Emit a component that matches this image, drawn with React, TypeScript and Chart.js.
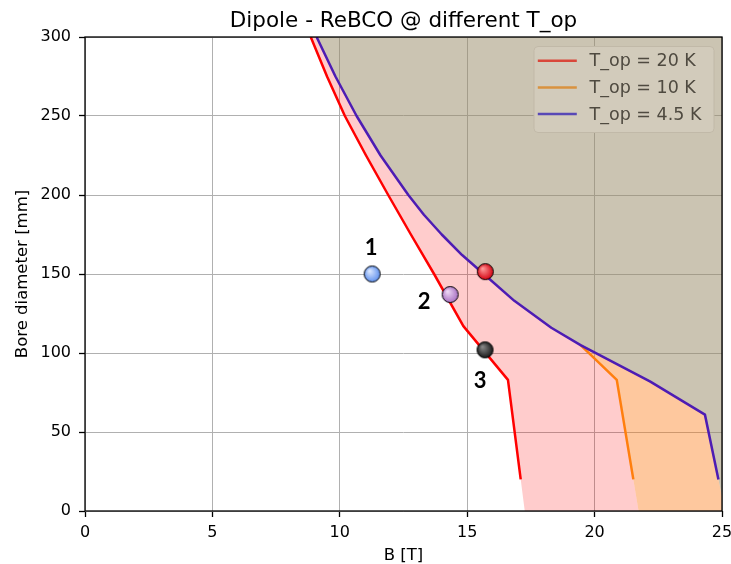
import React, { useEffect, useRef } from "react";
import { Chart, registerables } from "chart.js";

Chart.register(...registerables);

// ---- axis ticks ----
const X_TICKS = [0, 5, 10, 15, 20, 25];
const Y_TICKS = [0, 50, 100, 150, 200, 250, 300];

// ---- series (B [T] vs bore diameter [mm]) ----
const redB = [8.86, 9.5, 10.2, 11.03, 11.9, 12.79, 13.7, 14.85, 16.6, 17.1];
const redD = [300, 275, 250, 225, 200, 175, 150, 117, 83, 20];

const orangeB = [19.45, 20.87, 21.52];
const orangeD = [105, 83, 20];

const purpleB = [9.09, 9.83, 10.66, 11.6, 12.69, 13.3, 14.0, 14.8, 15.65, 16.85, 18.3, 19.45, 22.17, 24.33, 24.86];
const purpleD = [300, 275, 250, 225, 200, 187.5, 175, 162, 150, 133, 116, 105, 82, 61, 20];

// ---- design points ----
const markerB = [11.27, 14.33, 15.7, 15.71];
const markerD = [150, 137, 102, 151.5];
const markerLabels = ["1", "2", "3", ""];

const seriesNames = ["T_op = 20 K", "T_op = 10 K", "T_op = 4.5 K"];
const TITLE = "Dipole - ReBCO @ different T_op";
const X_LABEL = "B [T]";
const Y_LABEL = "Bore diameter [mm]";

// ---- styles ----
const RED = "#ff0000";
const ORANGE = "#ff7f0e";
const PURPLE = "#4d1cb4";
const markerColors = [
  ["#dde9ff", "#5d8fee"],
  ["#eedaf5", "#a86ec2"],
  ["#8a8a8a", "#151515"],
  ["#ff9a9a", "#d4000f"],
];
const labelOffsets = [
  [-1, -26],
  [-26, 7],
  [-5, 31.5],
];

function toPts(B: number[], D: number[]) {
  return B.map((b, i) => ({ x: b, y: D[i] }));
}

function extrapolateToZero(B: number[], D: number[]) {
  const n = B.length;
  const b1 = B[n - 2], d1 = D[n - 2], b2 = B[n - 1], d2 = D[n - 1];
  return b2 + ((b2 - b1) * (0 - d2)) / (d2 - d1);
}

function makeBall(light: string, dark: string, r: number) {
  const c = document.createElement("canvas");
  const s = Math.ceil(2 * r + 3);
  c.width = s;
  c.height = s;
  const g = c.getContext("2d")!;
  const cx = s / 2, cy = s / 2;
  const grad = g.createRadialGradient(cx - r * 0.35, cy - r * 0.4, r * 0.05, cx, cy, r * 1.05);
  grad.addColorStop(0, light);
  grad.addColorStop(1, dark);
  g.beginPath();
  g.arc(cx, cy, r, 0, Math.PI * 2);
  g.fillStyle = grad;
  g.fill();
  g.lineWidth = 1;
  g.strokeStyle = "#000";
  g.stroke();
  return c;
}

export default function App() {
  const ref = useRef<HTMLCanvasElement>(null);

  useEffect(() => {
    const canvas = ref.current!;
    const X_MAX = X_TICKS[X_TICKS.length - 1];
    const Y_MAX = Y_TICKS[Y_TICKS.length - 1];

    const red0 = extrapolateToZero(redB, redD);
    const orange0 = extrapolateToZero(orangeB, orangeD);
    const purple0 = extrapolateToZero(purpleB, purpleD);

    const redPts = toPts(redB, redD);
    const orangePts = toPts(orangeB, orangeD);
    const purplePts = toPts(purpleB, purpleD);

    const branch = orangeD[0];
    const purpleAbove = purplePts.filter((p) => p.y > branch);
    const purpleBelow = purplePts.filter((p) => p.y <= branch);

    const pinkPoly = [
      ...redPts,
      { x: red0, y: 0 },
      { x: orange0, y: 0 },
      ...orangePts.slice().reverse(),
      ...purpleAbove.slice().reverse(),
    ];
    const peachPoly = [
      ...orangePts,
      { x: orange0, y: 0 },
      { x: purple0, y: 0 },
      ...purpleBelow.slice().reverse(),
    ];
    const edge = Math.max(purple0, X_MAX) + 1;
    const taupePoly = [
      ...purplePts,
      { x: purple0, y: 0 },
      { x: edge, y: 0 },
      { x: edge, y: Y_MAX + 10 },
      { x: purplePts[0].x, y: Y_MAX + 10 },
    ];

    const balls = markerColors.map(([l, d]) => makeBall(l, d, 8));

    const polyDs = (data: any[], color: string) => ({
      data,
      showLine: true,
      fill: "shape",
      backgroundColor: color,
      borderWidth: 0,
      pointRadius: 0,
      tension: 0,
    });
    const lineDs = (data: any[], color: string) => ({
      data,
      showLine: true,
      fill: false,
      borderColor: color,
      borderWidth: 2.5,
      pointRadius: 0,
      tension: 0,
      borderJoinStyle: "round",
    });

    const tickFont = { family: "DejaVu Sans", size: 16 };

    const decor = {
      id: "decor",
      afterDatasetsDraw(chart: any) {
        const { ctx, chartArea: a, scales } = chart;
        const xs = scales.x, ys = scales.y;
        ctx.save();
        // spines
        ctx.strokeStyle = "#000";
        ctx.lineWidth = 1.3;
        ctx.strokeRect(a.left, a.top, a.right - a.left, a.bottom - a.top);

        // marker labels
        ctx.fillStyle = "#000";
        ctx.font = "bold 22px Lato";
        ctx.textAlign = "center";
        ctx.textBaseline = "middle";
        markerLabels.forEach((t, i) => {
          if (!t) return;
          const px = xs.getPixelForValue(markerB[i]) + labelOffsets[i][0];
          const py = ys.getPixelForValue(markerD[i]) + labelOffsets[i][1];
          ctx.fillText(t, px, py);
        });

        // legend
        const bw = 180, bh = 86;
        const bx = a.right - 8.5 - bw, by = a.top + 9;
        ctx.beginPath();
        ctx.roundRect(bx + 0.5, by + 0.5, bw, bh, 4);
        ctx.fillStyle = "#d2cbbb";
        ctx.fill();
        ctx.strokeStyle = "#c1b9a8";
        ctx.lineWidth = 1;
        ctx.stroke();
        const legCols = ["#d9473a", "#d9923f", "#5848b6"];
        ctx.font = "17.5px 'DejaVu Sans'";
        ctx.textAlign = "left";
        ctx.textBaseline = "middle";
        seriesNames.forEach((name, i) => {
          const ry = by + 14.7 + i * 26.7;
          ctx.beginPath();
          ctx.moveTo(bx + 4.3, ry);
          ctx.lineTo(bx + 43.3, ry);
          ctx.strokeStyle = legCols[i];
          ctx.lineWidth = 2.5;
          ctx.stroke();
          ctx.fillStyle = "#4f4a40";
          ctx.fillText(name, bx + 56, ry + 1);
        });

        // title
        const cx = (a.left + a.right) / 2;
        ctx.fillStyle = "#000";
        ctx.textAlign = "center";
        ctx.textBaseline = "alphabetic";
        ctx.font = "21.5px 'DejaVu Sans'";
        ctx.fillText(TITLE, cx, 27);
        // x label
        ctx.font = "16.5px 'DejaVu Sans'";
        ctx.fillText(X_LABEL, cx, 560);
        // y label
        ctx.save();
        ctx.translate(26.5, (a.top + a.bottom) / 2);
        ctx.rotate(-Math.PI / 2);
        ctx.fillText(Y_LABEL, 0, 0);
        ctx.restore();
        ctx.restore();
      },
    };

    const chart = new Chart(canvas, {
      type: "scatter",
      data: {
        datasets: [
          {
            data: toPts(markerB, markerD),
            pointStyle: balls as any,
            pointRadius: 8,
            showLine: false,
          } as any,
          lineDs(purplePts, PURPLE),
          lineDs(redPts, RED),
          lineDs(orangePts, ORANGE),
          polyDs(pinkPoly, "rgba(255,0,0,0.2)"),
          polyDs(peachPoly, "rgba(252,118,12,0.4)"),
          polyDs(taupePoly, "rgba(151,137,101,0.5)"),
        ],
      },
      options: {
        responsive: false,
        animation: false,
        devicePixelRatio: 1,
        layout: { padding: { top: 37, right: 9, left: 0, bottom: 0 } },
        plugins: {
          legend: { display: false },
          title: { display: false },
          tooltip: { enabled: false },
        },
        scales: {
          x: {
            type: "linear",
            min: X_TICKS[0],
            max: X_MAX,
            afterBuildTicks: (s: any) => {
              s.ticks = X_TICKS.map((v) => ({ value: v }));
            },
            afterFit: (s: any) => {
              s.height = 53;
              s.paddingLeft = 0;
              s.paddingRight = 0;
            },
            ticks: { font: tickFont, color: "#000", padding: 6, maxRotation: 0 },
            grid: { color: "#b0b0b0", lineWidth: 1, tickColor: "#000", tickLength: 6, tickWidth: 1.3 },
            border: { display: false },
          },
          y: {
            type: "linear",
            min: Y_TICKS[0],
            max: Y_MAX,
            afterBuildTicks: (s: any) => {
              s.ticks = Y_TICKS.map((v) => ({ value: v }));
            },
            afterFit: (s: any) => {
              s.width = 85;
              s.paddingTop = 0;
              s.paddingBottom = 0;
            },
            ticks: { font: tickFont, color: "#000", padding: 8 },
            grid: { color: "#b0b0b0", lineWidth: 1, tickColor: "#000", tickLength: 6, tickWidth: 1.3 },
            border: { display: false },
          },
        },
      } as any,
      plugins: [decor],
    });
    return () => chart.destroy();
  }, []);

  return (
    <div style={{ position: "absolute", left: 0, top: 0, width: 731, height: 564, background: "#fff" }}>
      <canvas ref={ref} width={731} height={564} style={{ display: "block" }} />
    </div>
  );
}
